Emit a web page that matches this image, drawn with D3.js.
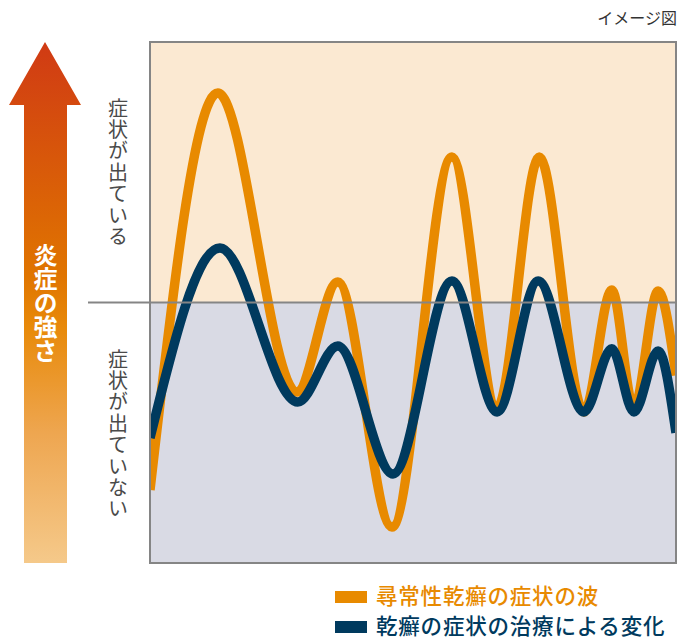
<!DOCTYPE html>
<html><head><meta charset="utf-8">
<script src="https://cdn.jsdelivr.net/npm/d3@7"></script>
<style>body{margin:0;background:#fff}svg{display:block}text{font-family:"Noto Sans CJK JP","Noto Sans",sans-serif}</style>
</head><body><svg id="c" width="679" height="640"></svg>
<script>
// Data (arbitrary "inflammation intensity" units, 0 = symptom threshold)
const xPos = [0, 12.9, 27.9, 35.7, 46.0, 57.4, 66.0, 74.0, 82.5, 87.8, 92.0, 96.6, 100];
const naturalWave = [-72, 80.4, -34.4, 7.9, -86.2, 55.9, -40.5, 55.9, -42.0, 4.8, -40.5, 4.4, -28];
const xPosT = [0, 13.3, 28.1, 35.7, 46.2, 57.4, 66.0, 73.8, 82.5, 87.8, 92.0, 96.6, 100];
const treatedWave = [-52, 20.9, -38.2, -16.7, -65.8, 8.3, -42.0, 8.3, -42.0, -17.8, -42.0, -18.6, -50];
const seriesNames = ["尋常性乾癬の症状の波", "乾癬の症状の治療による変化"];
const seriesColors = ["#e88a00", "#003a5e"];
const zoneLabels = ["症状が出ている", "症状が出ていない"];
const axisTitle = "炎症の強さ";
const noteText = "イメージ図";

const svg = d3.select("#c");
const L = 150, R = 676, T = 42, B = 563;
const x = d3.scaleLinear().domain([0, 100]).range([L, R]);
const y = d3.scaleLinear().domain([-100, 100]).range([B, T]);

// backgrounds
svg.append("rect").attr("x", L).attr("y", T).attr("width", R - L).attr("height", y(0) - T).attr("fill", "#fbe9d2");
svg.append("rect").attr("x", L).attr("y", y(0)).attr("width", R - L).attr("height", B - y(0)).attr("fill", "#d9dae4");

// clip
svg.append("clipPath").attr("id", "clip").append("rect").attr("x", L).attr("y", T).attr("width", R - L).attr("height", B - T);

const line = d3.line().x(d => x(d[0])).y(d => y(d[1])).curve(d3.curveMonotoneX);
const g = svg.append("g").attr("clip-path", "url(#clip)");
g.append("path").datum(xPos.map((v, i) => [v, naturalWave[i]])).attr("d", line)
  .attr("fill", "none").attr("stroke", seriesColors[0]).attr("stroke-width", 9.5).attr("stroke-linejoin", "round");
g.append("path").datum(xPosT.map((v, i) => [v, treatedWave[i]])).attr("d", line)
  .attr("fill", "none").attr("stroke", seriesColors[1]).attr("stroke-width", 9.5).attr("stroke-linejoin", "round");

// border & midline
svg.append("rect").attr("x", L).attr("y", T).attr("width", R - L).attr("height", B - T)
  .attr("fill", "none").attr("stroke", "#858585").attr("stroke-width", 2);
svg.append("line").attr("x1", 88).attr("x2", R).attr("y1", y(0)).attr("y2", y(0))
  .attr("stroke", "#858585").attr("stroke-width", 2);

// arrow
const grad = svg.append("defs").append("linearGradient").attr("id", "ag")
  .attr("x1", 0).attr("y1", 0).attr("x2", 0).attr("y2", 1);
[[0, "#d03a14"], [0.45, "#e07500"], [0.55, "#e88a0a"], [0.75, "#eea650"], [1, "#f5c98a"]]
  .forEach(s => grad.append("stop").attr("offset", s[0]).attr("stop-color", s[1]));
svg.append("path").attr("d", "M45,42 L81,105 L67,105 L67,563 L24,563 L24,105 L9,105 Z").attr("fill", "url(#ag)");
svg.append("text").attr("x", 45.5).attr("y", 243).text(axisTitle)
  .attr("style", "writing-mode:vertical-rl").attr("fill", "#fff").attr("font-size", 24).attr("font-weight", "bold");

// zone labels
svg.append("text").attr("x", 118).attr("y", 98).text(zoneLabels[0])
  .attr("style", "writing-mode:vertical-rl").attr("fill", "#4a4a4a").attr("font-size", 20).attr("letter-spacing", 1.4);
svg.append("text").attr("x", 118).attr("y", 349).text(zoneLabels[1])
  .attr("style", "writing-mode:vertical-rl").attr("fill", "#4a4a4a").attr("font-size", 20).attr("letter-spacing", 1.4);

// note
svg.append("text").attr("x", 677).attr("y", 24).attr("text-anchor", "end").text(noteText)
  .attr("fill", "#333").attr("font-size", 16);

// legend
seriesNames.forEach((n, i) => {
  const yy = 591 + i * 30;
  svg.append("rect").attr("x", 335).attr("y", yy).attr("width", 32).attr("height", 12).attr("fill", seriesColors[i]);
  svg.append("text").attr("x", 376).attr("y", yy + 13).text(n)
    .attr("fill", seriesColors[i]).attr("font-size", 21.5).attr("font-weight", 500).attr("letter-spacing", 0.8);
});
</script></body></html>
